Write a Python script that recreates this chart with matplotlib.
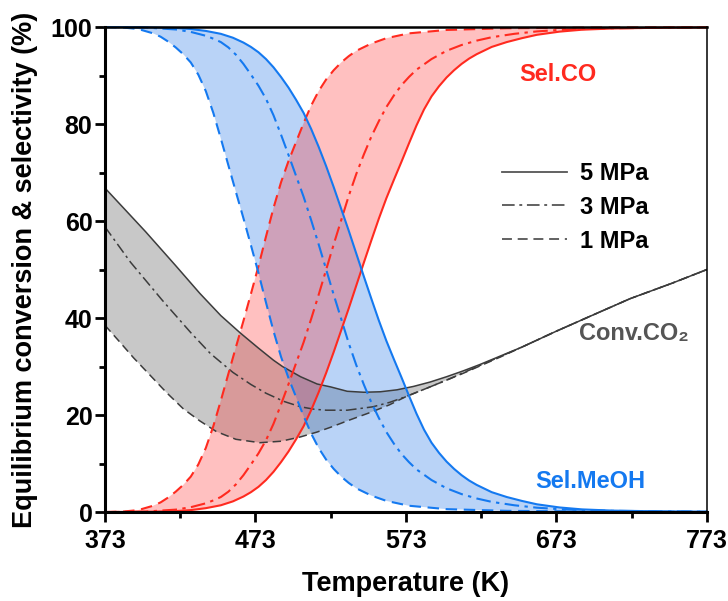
import matplotlib
matplotlib.use("Agg")
import matplotlib.pyplot as plt
from matplotlib.lines import Line2D
import numpy as np

plt.rcParams['font.family'] = ['Liberation Sans', 'DejaVu Sans']

# ---- Methanol selectivity (%) ----
T_meoh_5 = [373, 400, 420, 430, 440, 450, 458, 465, 470, 475, 480, 485, 490, 495, 500,
            505, 510, 515, 520, 525, 530, 535, 540, 545, 550, 555, 560, 565, 570, 575,
            580, 585, 590, 595, 600, 605, 610, 615, 620, 630, 640, 650, 660, 675, 690,
            710, 740, 773]
meoh_5 = [100, 99.95, 99.8, 99.6, 99.2, 98.6, 97.8, 96.8, 95.9, 94.8, 93.4, 91.7, 89.7, 87.5, 85,
          82.3, 79, 75.3, 71.3, 67, 62.5, 58, 53.3, 48.6, 44, 39.5, 35.3, 31.5, 27.8, 24,
          20.3, 17, 14.3, 12.2, 10.4, 8.9, 7.6, 6.5, 5.6, 4.1, 3.1, 2.3, 1.6, 0.95, 0.55,
          0.3, 0.15, 0.08]

T_meoh_3 = [373, 400, 420, 430, 440, 445, 450, 455, 460, 465, 470, 475, 480, 485, 490,
            495, 500, 505, 510, 515, 520, 525, 530, 535, 540, 545, 550, 555, 560, 565,
            570, 575, 580, 590, 600, 610, 620, 630, 645, 660, 680, 710, 773]
meoh_3 = [100, 99.9, 99.5, 99.0, 98.2, 97.6, 96.9, 95.8, 94.3, 92.4, 90.2, 87.9, 85.2, 81.8, 77.8,
          73.6, 69.3, 65, 60.2, 55.2, 50, 44.8, 39.8, 34.8, 30.3, 26.3, 22.6, 19.4, 16.5, 14.1,
          12, 10.3, 8.8, 6.6, 4.9, 3.7, 2.8, 2.1, 1.4, 0.9, 0.5, 0.25, 0.08]

T_meoh_1 = [373, 385, 395, 405, 410, 415, 420, 425, 430, 435, 440, 445, 450, 455, 460,
            465, 470, 475, 480, 485, 490, 495, 500, 505, 510, 515, 520, 525, 530, 535,
            540, 550, 560, 575, 600, 640, 700, 773]
meoh_1 = [100, 99.9, 99.6, 98.7, 98, 97, 95.8, 94.4, 92.7, 90.2, 86.8, 82.3, 77, 71.5, 66,
          60.6, 55, 49.3, 43.2, 37.3, 32, 27.6, 23.7, 19.8, 16.2, 13.2, 10.8, 8.9, 7.3, 6,
          4.9, 3.4, 2.3, 1.3, 0.6, 0.25, 0.1, 0.05]

# ---- CO selectivity (%) ----
co_5 = [0, 0.05, 0.2, 0.4, 0.8, 1.4, 2.2, 3.2, 4.1, 5.2, 6.6, 8.3, 10.3, 12.5, 15,
        17.7, 21, 24.7, 28.7, 33, 37.5, 42, 46.7, 51.4, 56, 60.5, 64.7, 68.5, 72.2, 76,
        79.7, 83, 85.7, 87.8, 89.6, 91.1, 92.4, 93.5, 94.4, 95.9, 96.9, 97.7, 98.4, 99.05, 99.45,
        99.7, 99.85, 99.92]
co_3 = [0, 0.1, 0.5, 1.0, 1.8, 2.4, 3.1, 4.2, 5.7, 7.6, 9.8, 12.1, 14.8, 18.2, 22.2,
        26.4, 30.7, 35, 39.8, 44.8, 50, 55.2, 60.2, 65.2, 69.7, 73.7, 77.4, 80.6, 83.5, 85.9,
        88, 89.7, 91.2, 93.4, 95.1, 96.3, 97.2, 97.9, 98.6, 99.1, 99.5, 99.75, 99.92]
co_1 = [0, 0.1, 0.4, 1.3, 2, 3, 4.2, 5.6, 7.3, 9.8, 13.2, 17.7, 23, 28.5, 34,
        39.4, 45, 50.7, 56.8, 62.7, 68, 72.4, 76.3, 80.2, 83.8, 86.8, 89.2, 91.1, 92.7, 94,
        95.1, 96.6, 97.7, 98.7, 99.4, 99.75, 99.9, 99.95]

# ---- CO2 conversion (%) ----
T_conv_5 = [373, 400, 420, 436, 450, 463, 475, 485, 491, 503, 514, 523, 534, 545, 556,
            567, 578, 589, 600, 611, 622, 636, 650, 673, 700, 722, 750, 773]
conv_5 = [66.8, 57.8, 50.8, 45.1, 40.5, 36.9, 33.8, 31.3, 30, 27.9, 26.4, 25.8, 24.9, 24.7, 24.8,
          25.2, 25.9, 26.8, 27.9, 29.1, 30.4, 32.2, 34, 37.3, 41, 44, 47.2, 50]

T_conv_3 = [373, 390, 411, 430, 443, 458, 470, 480, 492, 503, 512, 520, 534, 551, 562,
            573, 589, 600, 611, 622, 636, 650, 673, 700, 722, 750, 773]
conv_3 = [58.8, 51.5, 43.7, 37, 32.7, 28.8, 26.3, 24.5, 22.8, 21.7, 21.2, 21, 21, 21.7, 22.6,
          23.8, 25.8, 27.2, 28.7, 30.2, 32.1, 34, 37.3, 41, 44, 47.2, 50]

T_conv_1 = [373, 383, 392, 403, 414, 425, 436, 447, 460, 476, 490, 503, 514, 524, 534,
            549, 562, 573, 589, 600, 611, 622, 636, 650, 673, 700, 722, 750, 773]
conv_1 = [38.5, 35, 31.8, 28.2, 24.6, 21.3, 18.8, 16.6, 15.0, 14.3, 14.6, 15.5, 16.5, 17.6, 18.8,
          20.5, 22.1, 23.8, 25.8, 27.2, 28.6, 30.1, 32.0, 34, 37.3, 41, 44, 47.2, 50]

pressures = ['5 MPa', '3 MPa', '1 MPa']
x_ticks = [373, 473, 573, 673, 773]
y_ticks = [0, 20, 40, 60, 80, 100]

BLUE = '#1479f0'
RED = '#ff2a1f'
GRAY = '#3c3c3c'

LS_SOLID = '-'
LS_DASHDOT = (0, (7, 2.6, 1.6, 2.6))
LS_DASH = (0, (5.5, 3.2))


def band(ax, xa, ya, xb, yb, color, alpha):
    xs = np.concatenate([xa, xb[::-1]])
    ys = np.concatenate([ya, yb[::-1]])
    ax.fill(xs, ys, color=color, alpha=alpha, lw=0, zorder=1)


fig = plt.figure(figsize=(7.28, 6.01), dpi=100)
ax = fig.add_axes([0.1442, 0.148, 0.8268, 0.807])

T5c, T3c, T1c = map(np.array, (T_conv_5, T_conv_3, T_conv_1))
Tm5, Tm3, Tm1 = map(np.array, (T_meoh_5, T_meoh_3, T_meoh_1))

# shaded pressure envelopes (5 MPa to 1 MPa)
band(ax, T5c, np.array(conv_5), T1c, np.array(conv_1), '#555555', 0.32)
band(ax, Tm5, np.array(meoh_5), Tm1, np.array(meoh_1), '#1a6fe6', 0.30)
band(ax, Tm5, np.array(co_5), Tm1, np.array(co_1), '#ff3030', 0.30)

# conversion curves
ax.plot(T5c, conv_5, color=GRAY, lw=1.1, ls=LS_SOLID, zorder=3)
ax.plot(T3c, conv_3, color=GRAY, lw=1.1, ls=LS_DASHDOT, zorder=3)
ax.plot(T1c, conv_1, color=GRAY, lw=1.1, ls=LS_DASH, zorder=3)

# CO selectivity curves
ax.plot(Tm5, co_5, color=RED, lw=1.5, ls=LS_SOLID, zorder=4, clip_on=False)
ax.plot(Tm3, co_3, color=RED, lw=1.5, ls=LS_DASHDOT, zorder=4, clip_on=False)
ax.plot(Tm1, co_1, color=RED, lw=1.5, ls=LS_DASH, zorder=4, clip_on=False)

# methanol selectivity curves
ax.plot(Tm5, meoh_5, color=BLUE, lw=1.5, ls=LS_SOLID, zorder=4, clip_on=False)
ax.plot(Tm3, meoh_3, color=BLUE, lw=1.5, ls=LS_DASHDOT, zorder=4, clip_on=False)
ax.plot(Tm1, meoh_1, color=BLUE, lw=1.5, ls=LS_DASH, zorder=4, clip_on=False)

ax.set_xlim(373, 773)
ax.set_ylim(0, 100)
ax.set_xticks(x_ticks)
ax.set_xticks([423, 523, 623, 723], minor=True)
ax.set_yticks(y_ticks)
ax.set_yticks([10, 30, 50, 70, 90], minor=True)
ax.set_xticklabels([str(v) for v in x_ticks], fontsize=18, fontweight='bold')
ax.set_yticklabels([str(v) for v in y_ticks], fontsize=18, fontweight='bold')
ax.tick_params(which='major', direction='out', length=7, width=2, pad=2)
ax.tick_params(axis='x', which='major', pad=5)
ax.tick_params(which='minor', direction='out', length=4, width=2)
ax.tick_params(top=False, right=False)

for s in ('left', 'bottom'):
    ax.spines[s].set_linewidth(2.2)
ax.spines['top'].set_linewidth(1.8)
ax.spines['right'].set_linewidth(1.1)
for s in ax.spines.values():
    s.set_zorder(6)

ax.set_xlabel('Temperature (K)', fontsize=19.5, fontweight='bold', labelpad=13)
ax.set_ylabel('Equilibrium conversion & selectivity (%)', fontsize=19.5, fontweight='bold')
ax.yaxis.set_label_coords(-0.112, 0.5)

# curve annotations
ax.text(0.752, 0.902, 'Sel.CO', transform=ax.transAxes, color=RED,
        fontsize=17, ha='center', va='center', fontweight='bold')
ax.text(0.806, 0.063, 'Sel.MeOH', transform=ax.transAxes, color=BLUE,
        fontsize=17, ha='center', va='center', fontweight='bold')
ax.text(0.878, 0.368, 'Conv.CO\u2082', transform=ax.transAxes, color='#555555',
        fontsize=17, ha='center', va='center', fontweight='bold')

handles = [Line2D([], [], color='#555555', lw=1.3, ls=LS_SOLID),
           Line2D([], [], color='#555555', lw=1.3, ls=LS_DASHDOT),
           Line2D([], [], color='#555555', lw=1.3, ls=LS_DASH)]
ax.legend(handles, pressures, loc='upper left', bbox_to_anchor=(0.659, 0.722),
          frameon=False, borderpad=0, borderaxespad=0, handlelength=2.75,
          handletextpad=0.55, labelspacing=0.46,
          prop={'size': 17, 'weight': 'bold'})

fig.savefig('out.png', dpi=100)
